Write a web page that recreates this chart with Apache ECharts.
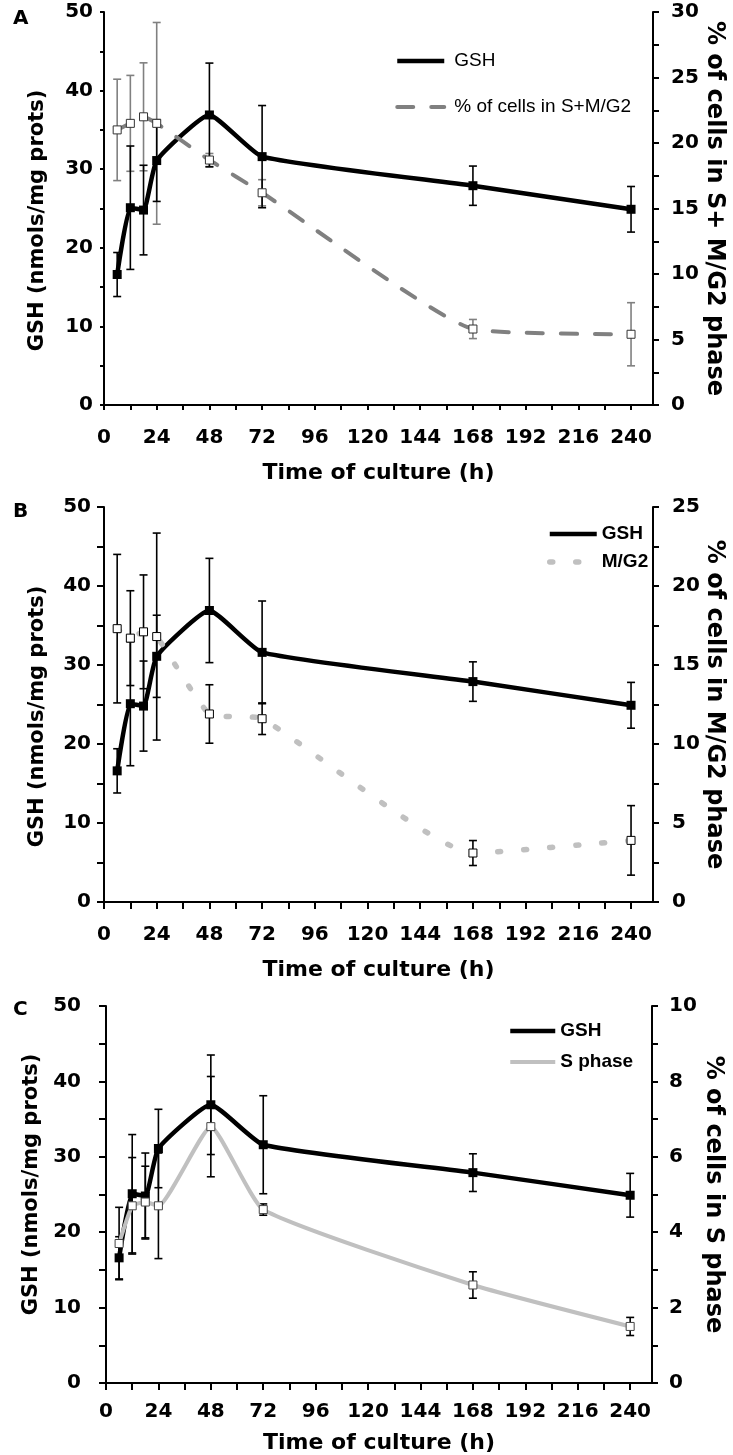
<!DOCTYPE html>
<html>
<head>
<meta charset="utf-8">
<script src="https://cdn.jsdelivr.net/npm/echarts@6/dist/echarts.min.js"></script>
<style>
  html, body { margin: 0; padding: 0; background: #fff; }
  #chart { width: 733px; height: 1455px; }
</style>
</head>
<body>
<div id="chart"></div>
<script>
// Sampling times (h)
const hours = [6, 12, 18, 24, 48, 72, 168, 240];

// GSH content (nmols/mg prots) with error
const gsh = [16.6, 25.1, 24.8, 31.1, 36.9, 31.6, 27.9, 24.9];
const gshErr = [2.8, 7.85, 5.7, 5.2, 6.6, 6.5, 2.5, 2.9];

// % of cells in S+M/G2
const sMG2 = [21.0, 21.5, 22.0, 21.5, 18.7, 16.2, 5.8, 5.4];
const sMG2Err = [3.87, 3.66, 4.12, 7.7, 0.5, 1.0, 0.73, 2.41];

// % of cells in M/G2
const mG2 = [17.3, 16.7, 17.1, 16.8, 11.9, 11.6, 3.1, 3.9];
const mG2Err = [4.7, 3.0, 3.6, 6.55, 1.85, 1.0, 0.79, 2.2];

// % of cells in S phase
const sPhase = [3.7, 4.7, 4.8, 4.7, 6.8, 4.6, 2.6, 1.5];
const sPhaseErr = [0.96, 1.28, 0.95, 1.4, 1.33, 0.15, 0.35, 0.24];

// Time axis ticks and labels
const timeTicks = [0, 12, 24, 36, 48, 60, 72, 84, 96, 108, 120, 132, 144, 156, 168, 180, 192, 204, 216, 228, 240];
const timeLabels = [0, 24, 48, 72, 96, 120, 144, 168, 192, 216, 240];

const AXIS_FONT = 'DejaVu Sans';
const LEGEND_FONT = 'Liberation Sans';
const SMOOTH = 0.15;

const pairs = (ys) => hours.map((h, i) => [h, ys[i]]);

function errorBars(values, errs, xi, yi, color) {
  return {
    type: 'custom',
    xAxisIndex: xi,
    yAxisIndex: yi,
    silent: true,
    z: 1,
    data: hours.map((h, i) => [h, values[i] - errs[i], values[i] + errs[i]]),
    encode: { x: 0, y: [1, 2] },
    renderItem: (params, api) => {
      const x = api.value(0);
      const lo = api.coord([x, api.value(1)]);
      const hi = api.coord([x, api.value(2)]);
      const w = 4;
      const style = { stroke: color, lineWidth: 1.6 };
      return {
        type: 'group',
        children: [
          { type: 'line', shape: { x1: lo[0], y1: lo[1], x2: hi[0], y2: hi[1] }, style },
          { type: 'line', shape: { x1: lo[0] - w, y1: lo[1], x2: lo[0] + w, y2: lo[1] }, style },
          { type: 'line', shape: { x1: hi[0] - w, y1: hi[1], x2: hi[0] + w, y2: hi[1] }, style }
        ]
      };
    }
  };
}

function timeAxis(gridIndex, labelMargin, nameGap, tickLen) {
  return {
    type: 'value',
    gridIndex,
    min: 0,
    max: 250,
    axisLine: { show: true, onZero: false, lineStyle: { color: '#000', width: 2 } },
    axisTick: { show: true, customValues: timeTicks, length: tickLen, lineStyle: { color: '#000', width: 2 } },
    axisLabel: {
      customValues: timeLabels,
      margin: labelMargin,
      color: '#000',
      fontFamily: AXIS_FONT,
      fontWeight: 'bold',
      fontSize: 20
    },
    splitLine: { show: false },
    name: 'Time of culture (h)',
    nameLocation: 'middle',
    nameGap,
    nameTextStyle: { color: '#000', fontFamily: AXIS_FONT, fontWeight: 'bold', fontSize: 22 }
  };
}

function valueAxis(gridIndex, side, max, interval, name, labelMargin, nameGap, tickLen, nameSize, namePadding) {
  return {
    type: 'value',
    gridIndex,
    position: side,
    min: 0,
    max,
    interval,
    axisLine: { show: true, onZero: false, lineStyle: { color: '#000', width: 2 } },
    axisTick: { show: true, length: tickLen, lineStyle: { color: '#000', width: 2 } },
    minorTick: { show: true, splitNumber: 2, length: tickLen, lineStyle: { color: '#000', width: 2 } },
    axisLabel: {
      margin: labelMargin,
      color: '#000',
      fontFamily: AXIS_FONT,
      fontWeight: 'bold',
      fontSize: 20
    },
    splitLine: { show: false },
    minorSplitLine: { show: false },
    name,
    nameLocation: 'middle',
    nameGap,
    nameMoveOverlap: side !== 'right',
    nameRotate: side === 'right' ? -90 : 90,
    nameTextStyle: {
      color: '#000', fontFamily: AXIS_FONT, fontWeight: 'bold', fontSize: nameSize,
      padding: namePadding || 0
    }
  };
}

function legend(left, top, itemWidth, itemGap, items, bold, textPad) {
  return {
    orient: 'vertical',
    left,
    top,
    padding: 0,
    itemWidth,
    itemHeight: 14,
    itemGap,
    selectedMode: false,
    itemStyle: { opacity: 0 },
    data: items,
    textStyle: {
      color: '#000',
      fontFamily: LEGEND_FONT,
      fontSize: 19,
      fontWeight: bold ? 'bold' : 'normal',
      lineHeight: 20,
      padding: [0, 0, 0, textPad]
    }
  };
}

const gshLine = (xi, yi) => ({
  type: 'line',
  name: 'GSH',
  xAxisIndex: xi,
  yAxisIndex: yi,
  data: pairs(gsh),
  smooth: SMOOTH,
  symbol: 'rect',
  symbolSize: 9,
  itemStyle: { color: '#000' },
  lineStyle: { color: '#000', width: 4.5 },
  z: 3
});

const chart = echarts.init(document.getElementById('chart'), null, { renderer: 'canvas' });

chart.setOption({
  animation: false,
  backgroundColor: '#fff',
  title: [
    { text: 'A', left: 8, top: 4, textStyle: { fontFamily: AXIS_FONT, fontWeight: 'bold', fontSize: 20, color: '#000' } },
    { text: 'B', left: 8, top: 497, textStyle: { fontFamily: AXIS_FONT, fontWeight: 'bold', fontSize: 20, color: '#000' } },
    { text: 'C', left: 8, top: 995, textStyle: { fontFamily: AXIS_FONT, fontWeight: 'bold', fontSize: 20, color: '#000' } }
  ],
  grid: [
    { left: 104, top: 12, width: 549, height: 393, outerBoundsMode: 'none' },
    { left: 104, top: 507, width: 549, height: 395, outerBoundsMode: 'none' },
    { left: 106, top: 1006, width: 546, height: 377, outerBoundsMode: 'none' }
  ],
  xAxis: [
    timeAxis(0, 23, 57, 5),
    timeAxis(1, 23, 57, 7),
    timeAxis(2, 19, 49, 7)
  ],
  yAxis: [
    valueAxis(0, 'left', 50, 10, 'GSH (nmols/mg prots)', 11, 56, 4, 21, [0, 24, 0, 0]),
    valueAxis(0, 'right', 30, 5, '% of cells in S+ M/G2 phase', 18, 49, 6, 24),
    valueAxis(1, 'left', 50, 10, 'GSH (nmols/mg prots)', 13, 56, 7, 21, [0, 24, 0, 0]),
    valueAxis(1, 'right', 25, 5, '% of cells in M/G2 phase', 19, 49, 6, 24),
    valueAxis(2, 'left', 50, 10, 'GSH (nmols/mg prots)', 25, 60, 7, 21, [0, 0, 0, 20]),
    valueAxis(2, 'right', 10, 2, '% of cells in S phase', 17, 49, 6, 24)
  ],
  legend: [
    legend(395, 51, 47, 26, [
      { name: 'GSH', lineStyle: { width: 4.5 } },
      { name: '% of cells in S+M/G2', lineStyle: { width: 4 } }
    ], false, 5),
    legend(547, 524, 47, 8, [
      { name: 'GSH', lineStyle: { width: 4.5 } },
      { name: 'M/G2', lineStyle: { width: 5.5 } }
    ], true, 0),
    legend(508, 1021, 45, 11, [
      { name: 'GSH', lineStyle: { width: 4.5 } },
      { name: 'S phase', lineStyle: { width: 4 } }
    ], true, 0)
  ],
  series: [
    // Panel A
    errorBars(sMG2, sMG2Err, 0, 1, '#808080'),
    errorBars(gsh, gshErr, 0, 0, '#000'),
    gshLine(0, 0),
    {
      type: 'line',
      name: '% of cells in S+M/G2',
      xAxisIndex: 0,
      yAxisIndex: 1,
      data: pairs(sMG2),
      smooth: SMOOTH,
      symbol: 'rect',
      symbolSize: 8,
      itemStyle: { color: '#fff', borderColor: '#333', borderWidth: 1 },
      lineStyle: { color: '#808080', width: 4, type: [16, 18], cap: 'round' },
      z: 4
    },
    // Panel B
    errorBars(mG2, mG2Err, 1, 3, '#000'),
    errorBars(gsh, gshErr, 1, 2, '#000'),
    gshLine(1, 2),
    {
      type: 'line',
      name: 'M/G2',
      xAxisIndex: 1,
      yAxisIndex: 3,
      data: pairs(mG2),
      smooth: SMOOTH,
      symbol: 'rect',
      symbolSize: 8,
      itemStyle: { color: '#fff', borderColor: '#000', borderWidth: 1 },
      lineStyle: { color: '#c0c0c0', width: 5.5, type: [3, 23], cap: 'round' },
      z: 4
    },
    // Panel C
    errorBars(sPhase, sPhaseErr, 2, 5, '#000'),
    errorBars(gsh, gshErr, 2, 4, '#000'),
    gshLine(2, 4),
    {
      type: 'line',
      name: 'S phase',
      xAxisIndex: 2,
      yAxisIndex: 5,
      data: pairs(sPhase),
      smooth: SMOOTH,
      symbol: 'rect',
      symbolSize: 8,
      itemStyle: { color: '#fff', borderColor: '#444', borderWidth: 1 },
      lineStyle: { color: '#c0c0c0', width: 4 },
      z: 4
    }
  ]
});
</script>
</body>
</html>
